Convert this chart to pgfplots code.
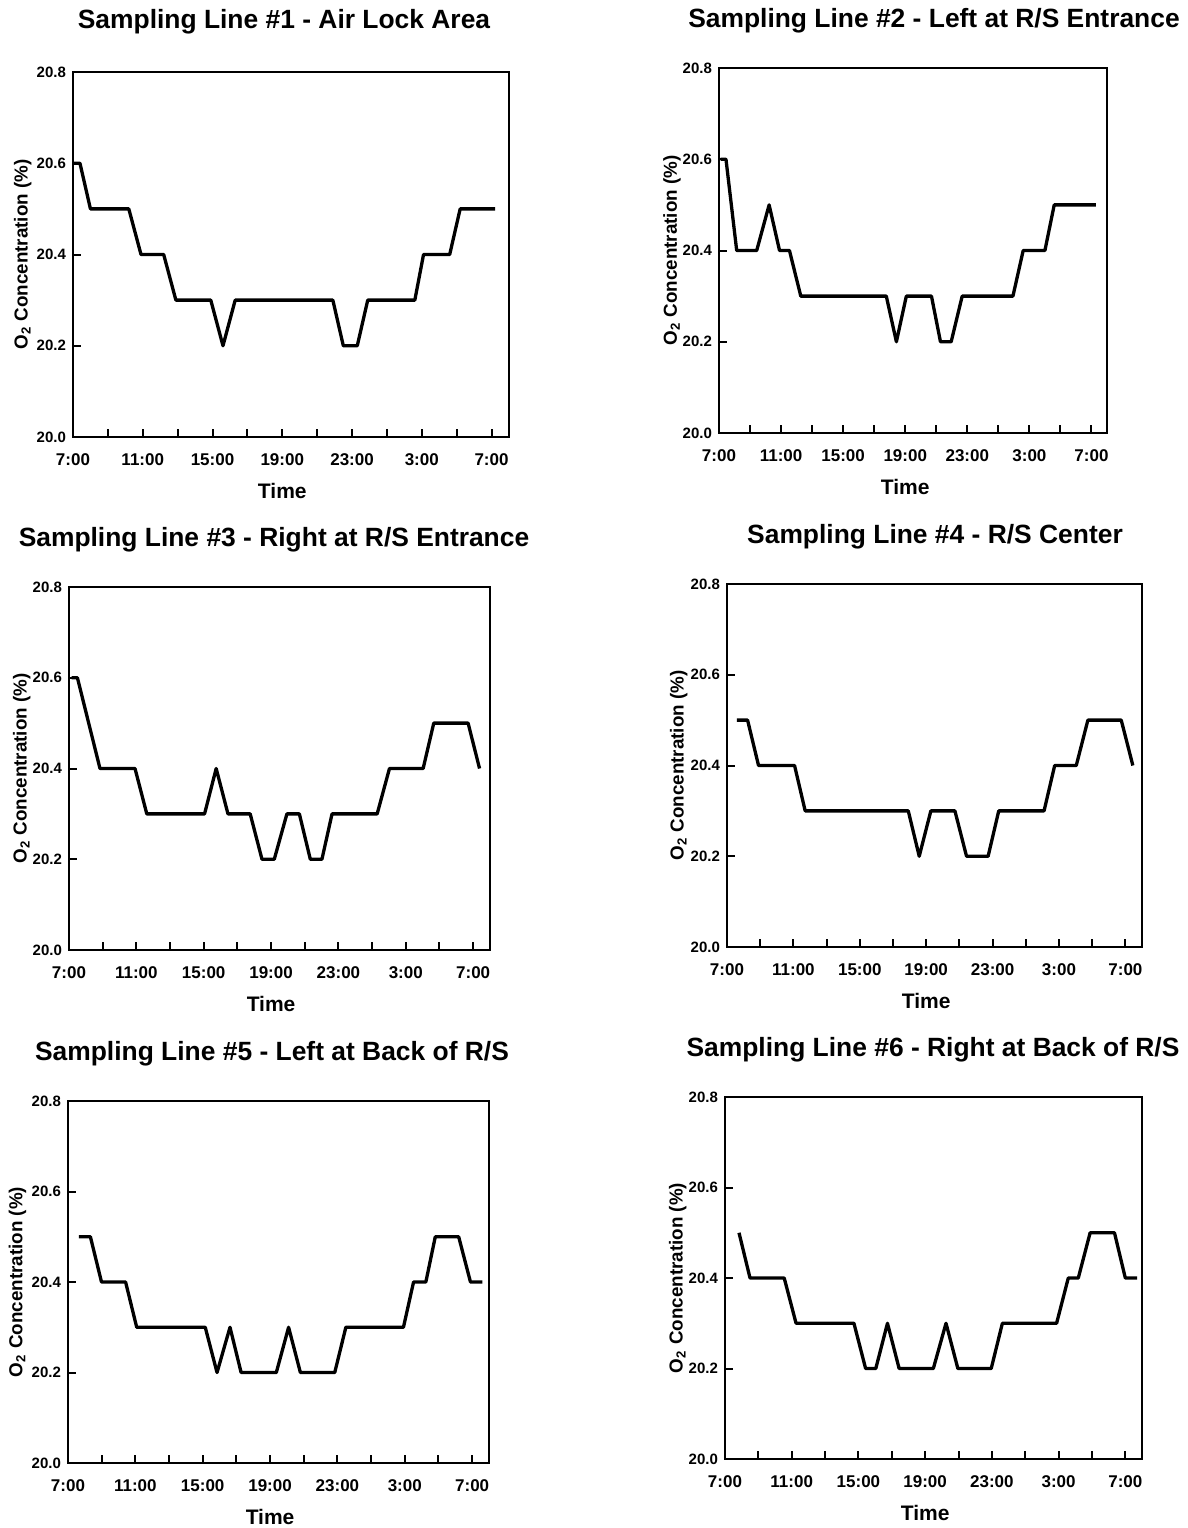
\documentclass[border=0pt]{standalone}
\usepackage{fontspec}
\setmainfont{Liberation Sans}
\usepackage{pgfplots}
\pgfplotsset{compat=1.18}
\pgfplotsset{
  o2/.style={
    scale only axis,
    anchor=south west,
    xmin=0, xmax=25, ymin=20, ymax=20.8,
    xtick={0,4,8,12,16,20,24},
    xticklabels={7:00,11:00,15:00,19:00,23:00,3:00,7:00},
    minor xtick={2,6,10,14,18,22},
    ytick={20,20.2,20.4,20.6,20.8},
    xtick pos=bottom, ytick pos=left,
    tick align=inside,
    major tick length=4pt, minor tick length=4pt,
    every tick/.style={black, line width=1pt},
    axis line style={line width=1.2pt},
    /pgf/number format/assume math mode=true,
    yticklabel style={/pgf/number format/fixed, /pgf/number format/fixed zerofill,
      /pgf/number format/precision=1, font=\fontsize{7.5}{9}\selectfont\bfseries},
    xticklabel style={font=\fontsize{8.5}{10}\selectfont\bfseries, anchor=base, yshift=-14pt},
    ylabel={O\textsubscript{2} Concentration (\%)},
    ylabel style={font=\fontsize{9.4}{11}\selectfont\bfseries, at={(axis description cs:-0.115,0.5)}, anchor=center},
    xlabel={Time},
    xlabel style={font=\fontsize{10.5}{12}\selectfont\bfseries, at={([yshift=-30.5pt]axis cs:12,20)}, anchor=base},
  }
}
\tikzset{o2line/.style={black, line width=1.65pt, line join=round, mark=none}}
\begin{document}
\begin{tikzpicture}
\useasboundingbox (0,0) rectangle (594pt,-764pt);
\tikzset{ttl/.style={font=\fontsize{13.2}{15}\selectfont\bfseries, anchor=base}}
\node[ttl] at (142pt,-14pt) {Sampling Line \#1 - Air Lock Area};
\node[ttl] at (467pt,-13.5pt) {Sampling Line \#2 - Left at R/S Entrance};
\node[ttl] at (137pt,-273pt) {Sampling Line \#3 - Right at R/S Entrance};
\node[ttl] at (467.5pt,-271.5pt) {Sampling Line \#4 - R/S Center};
\node[ttl] at (136pt,-530pt) {Sampling Line \#5 - Left at Back of R/S};
\node[ttl] at (466.5pt,-528pt) {Sampling Line \#6 - Right at Back of R/S};

\begin{axis}[o2, at={(36.5pt,-218.5pt)}, width=218pt, height=182.5pt]
\addplot[o2line] coordinates {(0,20.6) (0.4,20.6) (1.0,20.5) (3.2,20.5) (3.9,20.4) (5.2,20.4) (5.9,20.3) (7.9,20.3) (8.6,20.2) (9.3,20.3) (14.9,20.3) (15.5,20.2) (16.3,20.2) (16.9,20.3) (19.6,20.3) (20.1,20.4) (21.6,20.4) (22.2,20.5) (24.2,20.5)};
\end{axis}

\begin{axis}[o2, at={(359.5pt,-216.5pt)}, width=194pt, height=182.5pt, ylabel style={at={(axis description cs:-0.121,0.5)}}]
\addplot[o2line] coordinates {(0.1,20.6) (0.45,20.6) (1.14,20.4) (2.43,20.4) (3.23,20.5) (3.9,20.4) (4.54,20.4) (5.27,20.3) (10.78,20.3) (11.43,20.2) (12.07,20.3) (13.69,20.3) (14.27,20.2) (14.96,20.2) (15.67,20.3) (18.94,20.3) (19.6,20.4) (21.0,20.4) (21.6,20.5) (24.28,20.5)};
\end{axis}

\begin{axis}[o2, at={(34.5pt,-475pt)}, width=210.5pt, height=181.5pt, ylabel style={at={(axis description cs:-0.112,0.5)}}]
\addplot[o2line] coordinates {(0.16,20.6) (0.5,20.6) (1.84,20.4) (3.92,20.4) (4.62,20.3) (8.05,20.3) (8.74,20.4) (9.44,20.3) (10.76,20.3) (11.46,20.2) (12.19,20.2) (12.94,20.3) (13.68,20.3) (14.33,20.2) (15.02,20.2) (15.62,20.3) (18.3,20.3) (19.03,20.4) (21.03,20.4) (21.66,20.5) (23.7,20.5) (24.38,20.4)};
\end{axis}

\begin{axis}[o2, at={(363.5pt,-473.5pt)}, width=207.5pt, height=181.5pt, ylabel style={at={(axis description cs:-0.116,0.5)}}]
\addplot[o2line] coordinates {(0.6,20.5) (1.24,20.5) (1.9,20.4) (4.07,20.4) (4.71,20.3) (10.92,20.3) (11.58,20.2) (12.28,20.3) (13.73,20.3) (14.43,20.2) (15.73,20.2) (16.37,20.3) (19.1,20.3) (19.74,20.4) (21.04,20.4) (21.74,20.5) (23.75,20.5) (24.45,20.4)};
\end{axis}

\begin{axis}[o2, at={(34pt,-731.5pt)}, width=210.5pt, height=181pt, ylabel style={at={(axis description cs:-0.12,0.5)}}]
\addplot[o2line] coordinates {(0.64,20.5) (1.33,20.5) (1.99,20.4) (3.42,20.4) (4.08,20.3) (8.15,20.3) (8.85,20.2) (9.62,20.3) (10.28,20.2) (12.37,20.2) (13.1,20.3) (13.8,20.2) (15.84,20.2) (16.5,20.3) (19.92,20.3) (20.52,20.4) (21.25,20.4) (21.81,20.5) (23.2,20.5) (23.9,20.4) (24.6,20.4)};
\end{axis}

\begin{axis}[o2, at={(362.5pt,-729.5pt)}, width=208.5pt, height=181pt, ylabel style={at={(axis description cs:-0.113,0.5)}}]
\addplot[o2line] coordinates {(0.84,20.5) (1.5,20.4) (3.55,20.4) (4.26,20.3) (7.73,20.3) (8.43,20.2) (9.04,20.2) (9.74,20.3) (10.44,20.2) (12.49,20.2) (13.25,20.3) (13.96,20.2) (15.96,20.2) (16.63,20.3) (19.88,20.3) (20.58,20.4) (21.18,20.4) (21.89,20.5) (23.35,20.5) (24.0,20.4) (24.7,20.4)};
\end{axis}
\end{tikzpicture}
\end{document}
